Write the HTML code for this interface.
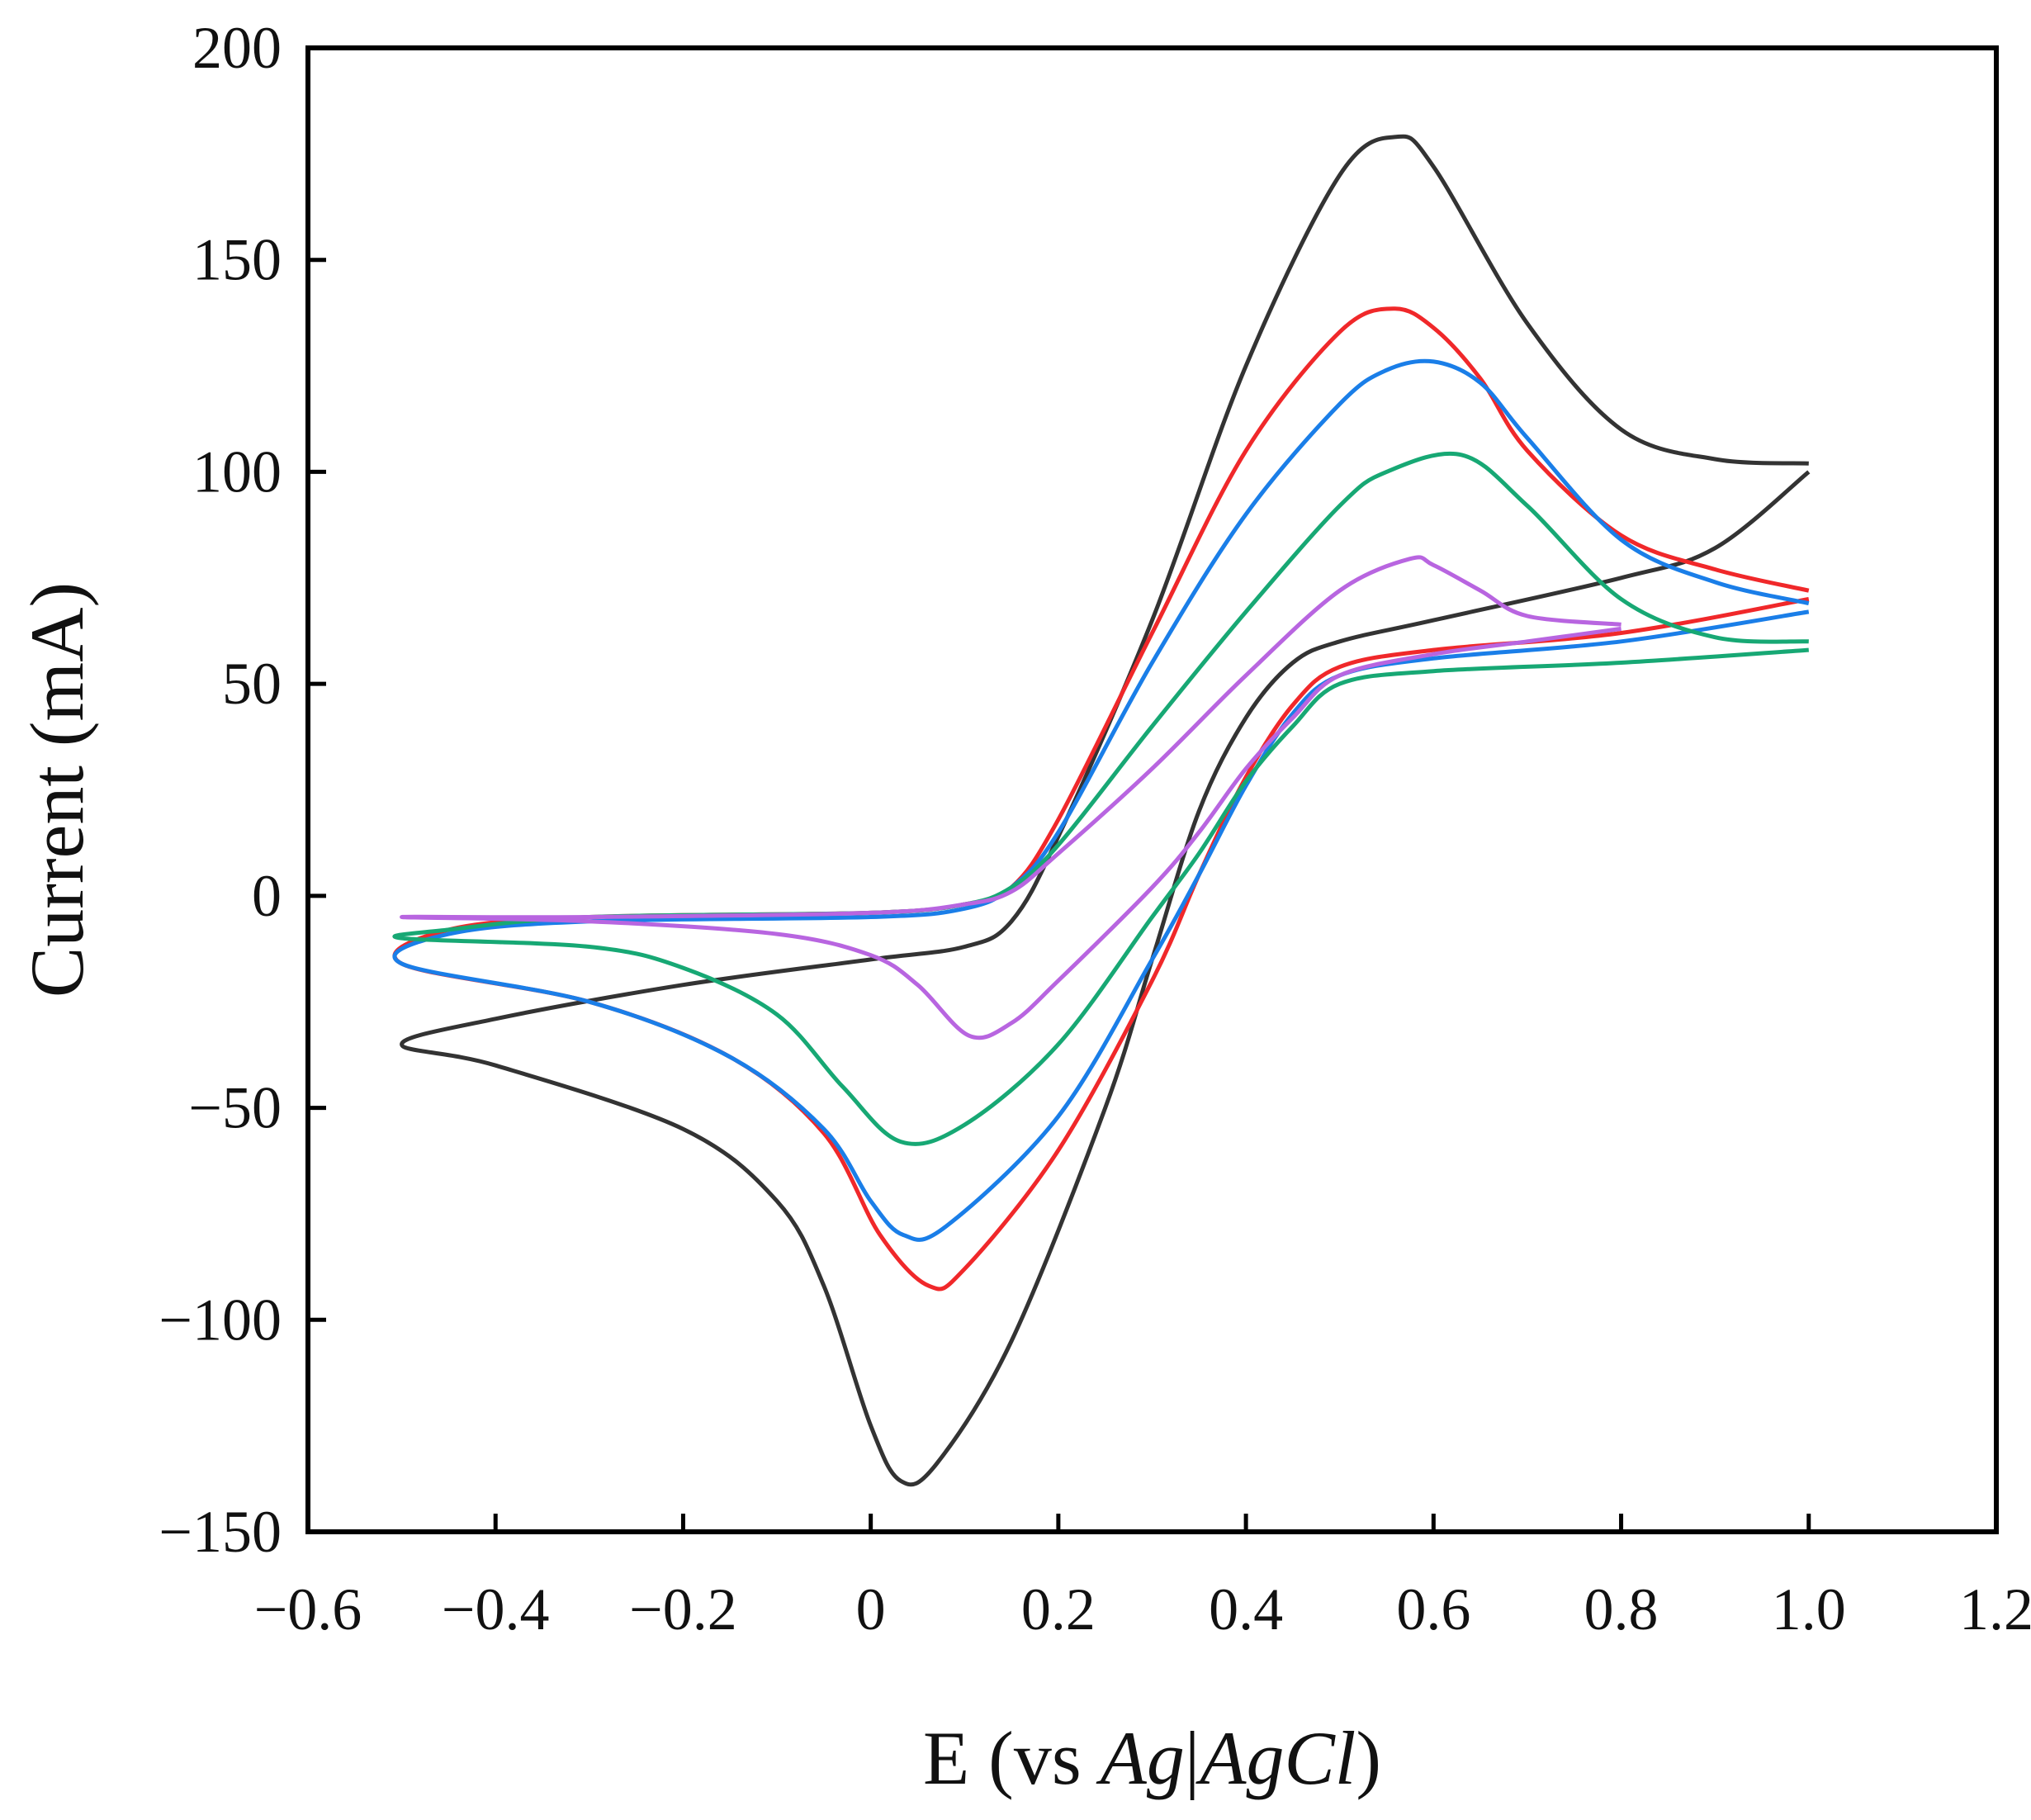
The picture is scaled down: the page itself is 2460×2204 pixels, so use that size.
<!DOCTYPE html>
<html><head><meta charset="utf-8"><style>
html,body{margin:0;padding:0;background:#fff;}
svg{display:block;}
text{font-family:"Liberation Serif",serif;fill:#111;}
</style></head><body>
<svg id="chart" width="2460" height="2204" viewBox="0 0 2460 2204" xmlns="http://www.w3.org/2000/svg"></svg>
<script>
const xTicks=[-0.6,-0.4,-0.2,0,0.2,0.4,0.6,0.8,1.0,1.2];
const xTickLabels=["\u22120.6","\u22120.4","\u22120.2","0","0.2","0.4","0.6","0.8","1.0","1.2"];
const yTicks=[-150,-100,-50,0,50,100,150,200];
const yTickLabels=["\u2212150","\u2212100","\u221250","0","50","100","150","200"];
const seriesNames=["black","red","blue","green","purple"];
const seriesColors=["#333333","#f0282a","#1a7ee8","#17a874","#b865e0"];
const blackE=[1.0,0.9,0.8,0.7,0.6,0.56,0.5,0.4,0.3,0.2,0.15,0.1,0,-0.2,-0.4,-0.5,-0.4,-0.2,-0.1,-0.05,0,0.032,0.07,0.15,0.25,0.3,0.35,0.4,0.45,0.5,0.6,0.8,0.9,1.0];
const blackI=[102,103,110,135,172,179,170,125,65,14,-6,-12,-15,-21,-29,-35,-40,-55,-72,-92,-125,-138,-134,-105,-50,-15,20,42,55,60,65,75,82,100];
const redE=[1.0,0.9,0.8,0.7,0.65,0.6,0.557,0.5,0.4,0.3,0.2,0.15,0.1,0,-0.3,-0.45,-0.5,-0.3,-0.15,-0.05,0.01,0.062,0.1,0.2,0.3,0.35,0.4,0.45,0.5,0.6,0.8,1.0];
const redI=[72,77,85,105,122,134,138.5,133,105,62,18,2,-2,-4,-5,-8,-16,-25,-38,-56,-80,-92,-88,-60,-20,5,28,45,54,58,62,70];
const blueE=[1.0,0.9,0.8,0.7,0.65,0.6,0.55,0.5,0.4,0.3,0.2,0.15,0.1,0,-0.3,-0.45,-0.5,-0.3,-0.15,-0.05,0.0,0.035,0.08,0.2,0.3,0.35,0.4,0.45,0.5,0.6,0.8,1.0];
const blueI=[69,74,84,108,121,126,124,116,90,55,15,2,-3,-5,-6,-9,-16,-25,-38,-55,-72,-80,-78,-52,-15,5,26,43,52,56,60,67];
const greenE=[1.0,0.9,0.8,0.7,0.63,0.55,0.5,0.4,0.3,0.2,0.15,0.1,0,-0.3,-0.45,-0.5,-0.3,-0.2,-0.1,-0.03,0.032,0.1,0.2,0.3,0.35,0.4,0.45,0.5,0.6,0.8,1.0];
const greenI=[60,61,70,92,104,100,92,67,40,12,2,-2,-4,-5,-8,-10,-12,-17,-28,-45,-58,-54,-35,-5,10,27,40,50,53,55,58];
const purpleE=[0.8,0.7,0.65,0.6,0.575,0.5,0.4,0.3,0.2,0.15,0.1,0,-0.3,-0.5,-0.3,-0.1,0,0.05,0.105,0.15,0.2,0.3,0.35,0.4,0.45,0.5,0.6,0.7,0.8];
const purpleI=[64,66,72,78,79.5,72,52,30,10,1,-2,-4,-5,-5,-6,-9,-14,-21,-33,-30,-20,2,15,30,42,52,57,60,63];

const svg=document.getElementById('chart');
const NS="http://www.w3.org/2000/svg";
const L=373,R=2418,T=58,B=1855;
const X0=-0.6,X1=1.2,Y0=-150,Y1=200;
function sx(v){return L+(v-X0)/(X1-X0)*(R-L);}
function sy(v){return B-(v-Y0)/(Y1-Y0)*(B-T);}
function mk(tag,attrs){const e=document.createElementNS(NS,tag);for(const k in attrs)e.setAttribute(k,attrs[k]);svg.appendChild(e);return e;}

xTicks.forEach((v,i)=>{
  if(i>0&&i<xTicks.length-1){
    const t=mk('line',{x1:sx(v),x2:sx(v),y1:B,y2:B-22,stroke:'#000','stroke-width':5});
    
    
  }
  const lb=mk('text',{x:sx(v),y:B+118,'font-size':72,'text-anchor':'middle'});
  lb.textContent=xTickLabels[i];
  
  
});
yTicks.forEach((v,i)=>{
  if(i>0&&i<yTicks.length-1){
    const t=mk('line',{x1:L,x2:L+22,y1:sy(v),y2:sy(v),stroke:'#000','stroke-width':5});
    
    
  }
  const lb=mk('text',{x:L-32,y:sy(v)+24,'font-size':72,'text-anchor':'end'});
  lb.textContent=yTickLabels[i];
  
  
});

function pathFrom(E,I){
  const p=E.map((e,i)=>[sx(e),sy(I[i])]);
  let d='M'+p[0][0].toFixed(1)+','+p[0][1].toFixed(1);
  for(let i=0;i<p.length-1;i++){
    const p0=p[Math.max(0,i-1)],p1=p[i],p2=p[i+1],p3=p[Math.min(p.length-1,i+2)];
    const c1=[p1[0]+(p2[0]-p0[0])/6,p1[1]+(p2[1]-p0[1])/6];
    const c2=[p2[0]-(p3[0]-p1[0])/6,p2[1]-(p3[1]-p1[1])/6];
    d+='C'+c1[0].toFixed(1)+','+c1[1].toFixed(1)+' '+c2[0].toFixed(1)+','+c2[1].toFixed(1)+' '+p2[0].toFixed(1)+','+p2[1].toFixed(1);
  }
  return d;
}
const allE=[blackE,redE,blueE,greenE,purpleE];
const allI=[blackI,redI,blueI,greenI,purpleI];
allE.forEach((E,k)=>{
  const pth=mk('path',{d:pathFrom(E,allI[k]),fill:'none',stroke:seriesColors[k],'stroke-width':5,'stroke-linejoin':'round'});
  
  
});

const frame=mk('rect',{x:L,y:T,width:R-L,height:B-T,fill:'none',stroke:'#000','stroke-width':6});



const yt=mk('text',{x:0,y:0,'font-size':92,'text-anchor':'middle',transform:'translate(100,'+((T+B)/2)+') rotate(-90)'});
yt.textContent='Current (mA)';



const xt=mk('text',{x:(L+R)/2,y:2160,'font-size':92,'text-anchor':'middle'});
xt.innerHTML='E (vs <tspan font-style="italic">Ag</tspan>|<tspan font-style="italic">AgCl</tspan>)';


</script>
</body></html>
